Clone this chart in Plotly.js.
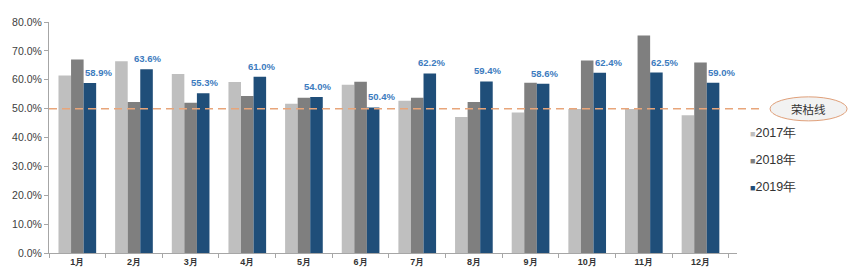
<!DOCTYPE html>
<html>
<head>
<meta charset="utf-8">
<script src="https://cdn.plot.ly/plotly-3.0.1.min.js"></script>
<style>html,body{margin:0;padding:0;background:#fff;}#chart{width:852px;height:278px;}</style>
</head>
<body>
<div id="chart"></div>
<script>
const months = ["1月","2月","3月","4月","5月","6月","7月","8月","9月","10月","11月","12月"];
const v2017 = [61.5, 66.4, 62.0, 59.2, 51.7, 58.3, 52.7, 47.1, 48.7, 49.9, 49.9, 47.7];
const v2018 = [67.0, 52.3, 52.0, 54.4, 53.8, 59.3, 53.8, 52.3, 59.0, 66.7, 75.3, 66.0];
const v2019 = [58.9, 63.6, 55.3, 61.0, 54.0, 50.4, 62.2, 59.4, 58.6, 62.4, 62.5, 59.0];
const seriesNames = ["2017年","2018年","2019年"];
const lineValue = 50;
const lineLabel = "荣枯线";
const yTicks = [0,10,20,30,40,50,60,70,80];

const colors = ["#BFBFBF","#7F7F7F","#1F4E79"];
const font = "Liberation Sans, Arial, sans-serif";

const traces = [v2017, v2018, v2019].map((vals, i) => ({
  type: "bar",
  name: seriesNames[i],
  x: months,
  y: vals,
  marker: {color: colors[i]},
  hoverinfo: "x+y+name"
}));

// 2019 value labels: placed above the 2019 bar, nudged right when the 2018 bar would collide
const valueLabels = months.map((m, i) => ({
  xref: "x", yref: "y", x: m, y: v2019[i], xanchor: "center", yanchor: "bottom",
  xshift: (v2018[i] > v2019[i] + 3) ? 21 : 14, yshift: 3,
  showarrow: false, text: v2019[i].toFixed(1) + "%",
  font: {family: font, size: 9.5, color: "#3C7BBE", weight: 700}
}));

// legend drawn as annotations (small coloured square + label)
const legendY = [0.519, 0.403, 0.286];
const legendAnn = seriesNames.map((n, i) => ({
  xref: "paper", yref: "paper", x: 1.016, y: legendY[i], xanchor: "left", yanchor: "middle",
  showarrow: false,
  text: "<span style='color:" + colors[i] + ";font-size:9px'>■</span>" + n,
  font: {family: font, size: 12.5, color: "#333"}
}));

const layout = {
  width: 852, height: 278,
  margin: {l: 49, r: 115, t: 22, b: 25},
  paper_bgcolor: "#fff", plot_bgcolor: "#fff",
  barmode: "group", bargap: 0.335, bargroupgap: 0,
  showlegend: false,
  xaxis: {type: "category", showline: true, linecolor: "#A6A6A6", linewidth: 1,
    ticks: "outside", tickson: "boundaries", ticklen: 4, tickcolor: "#A6A6A6",
    tickfont: {family: font, size: 9, color: "#333", weight: 700}, showgrid: false, zeroline: false,
    fixedrange: true},
  yaxis: {range: [0, 80], tickvals: yTicks, ticktext: yTicks.map(t => t.toFixed(1) + "%"),
    showline: true, linecolor: "#A6A6A6", linewidth: 1, ticks: "outside", ticklen: 4,
    tickcolor: "#A6A6A6", tickfont: {family: font, size: 10.5, color: "#404040"},
    showgrid: false, zeroline: false, fixedrange: true},
  shapes: [
    {type: "line", xref: "paper", yref: "paper", x0: 0, x1: 1.038,
     y0: lineValue / 80, y1: lineValue / 80, layer: "above",
     line: {color: "#E8A57A", width: 1.5, dash: "8px,5px"}},
    {type: "circle", xref: "paper", yref: "paper", x0: 1.048, x1: 1.16, y0: 0.572, y1: 0.676,
     fillcolor: "#F2F2F2", line: {color: "#E0A07A", width: 1}}
  ],
  annotations: [
    {xref: "paper", yref: "paper", x: 1.104, y: 0.625, xanchor: "center", yanchor: "middle",
     text: lineLabel, showarrow: false,
     font: {family: "Noto Sans CJK SC, sans-serif", size: 11.5, color: "#333"}}
  ].concat(legendAnn, valueLabels)
};

Plotly.newPlot("chart", traces, layout, {displayModeBar: false, staticPlot: true});
</script>
</body>
</html>
